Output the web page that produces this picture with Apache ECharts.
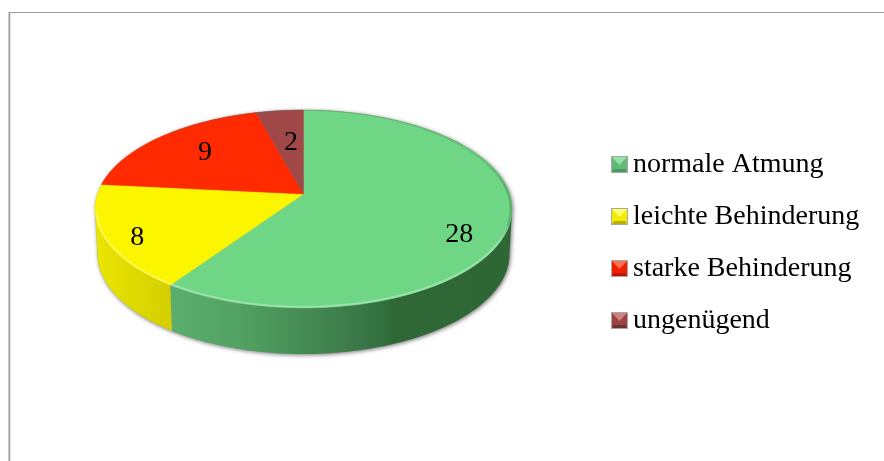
<!DOCTYPE html>
<html>
<head>
<meta charset="utf-8">
<style>html,body{margin:0;padding:0;background:#fff}#c{width:884px;height:461px}</style>
<script src="https://cdn.jsdelivr.net/npm/echarts@6/dist/echarts.min.js"></script>
</head>
<body>
<div id="c"></div>
<script>
var categories = ['normale Atmung', 'leichte Behinderung', 'starke Behinderung', 'ungenügend'];
var values = [28, 8, 9, 2];
var topColors = ['#6ed684', '#fcf500', '#ff2a00', '#a04848'];
var legendLight = ['#8fe6a4', '#ffff70', '#ff7050', '#d08080'];
var legendBase = ['#62b97a', '#f2ea00', '#f02000', '#9a4444'];
var legendDark = ['#4a9a60', '#b8b000', '#b81800', '#703030'];
var wallStops = [
  [[0, '#5aae6e'], [0.2, '#52a263'], [0.32, '#4a9459'], [0.5, '#3e7e4c'], [0.62, '#33703f'], [0.65, '#2f6836'], [1, '#2e6734']],
  [[0, '#eae500'], [1, '#d4ce00']],
  [[0, '#b01c00'], [1, '#b01c00']],
  [[0, '#703030'], [1, '#703030']]
];
var labelShift = [[3, 18.5], [-19, 11.5], [11.5, 2], [6, 13]];

var cx = 303.5, cy = 209, rx = 208.5, ry = 99;
var bcx = 303.5, bcy = 254, brx = 206, bry = 100;
var k = -15 / 99;
var total = values.reduce(function (a, b) { return a + b; }, 0);
var font = '"Liberation Serif", serif';
var starts = [];
values.reduce(function (a, v, i) { starts[i] = a; return a + v; }, 0);

function project(theta, r) {
  var u = r * Math.sin(theta), v = -r * Math.cos(theta), d = 1 + k * v;
  return [u * Math.sqrt(1 - k * k) / d, (v + k) / d];
}
function toTop(p) { return [cx + rx * p[0], cy + ry * p[1]]; }
function topAt(f, inset) { return [cx + (rx - (inset || 0)) * Math.cos(f), cy + (ry - (inset || 0)) * Math.sin(f)]; }
function botAt(f) { return [bcx + brx * Math.cos(f), bcy + bry * Math.sin(f)]; }
function phiOf(theta) {
  var p = project(theta, 1), f = Math.atan2(p[1], p[0]);
  if (f < -Math.PI / 2 - 1e-9) f += 2 * Math.PI;
  return f;
}
function arc(a, b, inset) {
  var pts = [], n = 60;
  for (var i = 0; i <= n; i++) pts.push(topAt(a + (b - a) * i / n, inset));
  return pts;
}
function deg(d) { return d * Math.PI / 180; }

function makeRender(idx) {
  return function (params, api) {
    var value = api.value(0);
    var a0 = starts[idx] / total * 2 * Math.PI, a1 = a0 + value / total * 2 * Math.PI;
    var children = [];

    if (idx === 0) {
      var sil = [];
      for (var s = 0; s <= 120; s++) sil.push(botAt(Math.PI * s / 120));
      for (var t = 0; t <= 120; t++) sil.push(topAt(Math.PI + Math.PI * t / 120));
      children.push({
        type: 'polygon', shape: { points: sil },
        style: { fill: '#9a9a9a', shadowBlur: 4, shadowColor: 'rgba(0,0,0,0.55)', shadowOffsetX: 1, shadowOffsetY: 1 }
      });
    }

    var f0 = Math.max(phiOf(a0), 0), f1 = Math.min(phiOf(a1 - 1e-6), Math.PI);
    if (idx === 1) f1 = Math.PI;
    if (f1 > f0 && idx < 2) {
      var w = [], n = 80, i;
      for (i = 0; i <= n; i++) w.push(topAt(f0 + (f1 - f0) * i / n));
      for (i = n; i >= 0; i--) w.push(botAt(f0 + (f1 - f0) * i / n));
      var xs = w.map(function (p) { return p[0]; });
      var stops = wallStops[idx].map(function (s) { return { offset: s[0], color: s[1] }; });
      children.push({
        type: 'polygon', shape: { points: w },
        style: { fill: new echarts.graphic.LinearGradient(Math.min.apply(null, xs), 0, Math.max.apply(null, xs), 0, stops, true) }
      });
    }

    var pts = [toTop(project(0, 0))], m = 90;
    for (var j = 0; j <= m; j++) pts.push(toTop(project(a0 + (a1 - a0) * j / m, 1)));
    children.push({
      type: 'polygon', shape: { points: pts },
      style: { fill: topColors[idx], stroke: topColors[idx], lineWidth: 0.4 }
    });

    if (idx === categories.length - 1) {
      children.push({ type: 'polyline', shape: { points: arc(deg(10), deg(178), 1.2) },
        style: { fill: null, stroke: 'rgba(255,255,255,0.3)', lineWidth: 2 } });
      children.push({ type: 'polyline', shape: { points: arc(deg(-65), deg(22), 1.2) },
        style: { fill: null, lineWidth: 2.4, stroke: new echarts.graphic.LinearGradient(0, 120, 0, 245, [
          { offset: 0, color: 'rgba(30,90,50,0)' },
          { offset: 0.55, color: 'rgba(30,90,50,0.28)' },
          { offset: 0.8, color: 'rgba(30,90,50,0.28)' },
          { offset: 1, color: 'rgba(30,90,50,0)' }
        ], true) } });
      children.push({ type: 'polyline', shape: { points: arc(deg(-130), deg(-40), 0.3) },
        style: { fill: null, stroke: 'rgba(90,90,90,0.4)', lineWidth: 0.8 } });
    }

    var mid = (a0 + a1) / 2, lp = toTop(project(mid, 0.75));
    children.push({
      type: 'text',
      style: {
        text: String(value), x: lp[0] + labelShift[idx][0], y: lp[1] + labelShift[idx][1],
        align: 'center', verticalAlign: 'middle', fill: '#000', font: '28px ' + font
      },
      z2: 10
    });
    return { type: 'group', children: children };
  };
}

function legendIcon(i) {
  var svg = '<svg xmlns="http://www.w3.org/2000/svg" width="17" height="17">' +
    '<rect x="0.5" y="0.5" width="16" height="16" fill="' + legendBase[i] + '" stroke="#a8a8a8"/>' +
    '<polygon points="1,1 16,1 8.5,9" fill="' + legendLight[i] + '"/>' +
    '<polygon points="1,16 16,16 14,13 3,13" fill="' + legendDark[i] + '"/>' +
    '</svg>';
  return 'image://data:image/svg+xml;charset=utf-8,' + encodeURIComponent(svg);
}

var chart = echarts.init(document.getElementById('c'), null, { renderer: 'canvas' });
chart.setOption({
  animation: false,
  backgroundColor: '#fff',
  legend: {
    orient: 'vertical', left: 611, top: 145, itemWidth: 17, itemHeight: 17, itemGap: 13,
    selectedMode: false, padding: 0,
    textStyle: { fontFamily: font, fontSize: 28, color: '#000', lineHeight: 30, padding: [9, 0, 0, 0] },
    data: categories.map(function (n, i) { return { name: n, icon: legendIcon(i) }; })
  },
  graphic: [
    { type: 'line', silent: true, shape: { x1: 8.5, y1: 12, x2: 8.5, y2: 461 }, style: { stroke: '#e2e2e2', lineWidth: 1 } },
    { type: 'line', silent: true, shape: { x1: 9.5, y1: 12, x2: 9.5, y2: 461 }, style: { stroke: '#9a9a9a', lineWidth: 1.5 } },
    { type: 'line', silent: true, shape: { x1: 9, y1: 12.5, x2: 884, y2: 12.5 }, style: { stroke: '#9a9a9a', lineWidth: 1.2 } }
  ],
  series: categories.map(function (n, i) {
    return {
      type: 'custom', name: n, coordinateSystem: 'none', silent: true,
      renderItem: makeRender(i), data: [[values[i]]], itemStyle: { color: topColors[i] }
    };
  })
});
</script>
</body>
</html>
